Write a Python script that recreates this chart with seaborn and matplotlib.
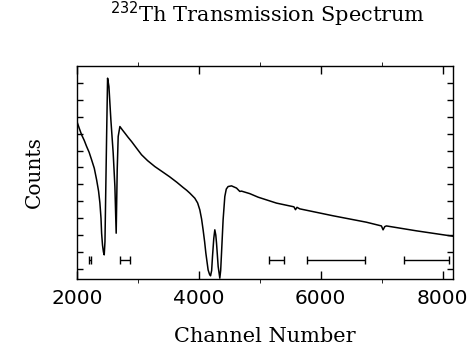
import seaborn as sns
import matplotlib.pyplot as plt
import pandas as pd

# channel / counts (counts in tick units)
channel = [2000, 2040, 2077, 2120, 2159, 2200, 2241, 2285, 2323, 2355, 2377, 2395, 2405,
           2420, 2435, 2448, 2460, 2470, 2487, 2503, 2525, 2557, 2595, 2623, 2644, 2661,
           2677, 2705, 2750, 2787, 2840, 2897, 2978, 3060, 3160, 3279, 3400, 3520, 3640,
           3740, 3800, 3852, 3934, 3980, 4016, 4045, 4070, 4095, 4115, 4152, 4175, 4192,
           4210, 4224, 4245, 4262, 4278, 4290, 4317, 4344, 4358, 4372, 4398, 4426, 4450,
           4480, 4536, 4618, 4672, 4700, 4754, 4836, 4973, 5274, 5560, 5585, 5610, 5656,
           6202, 6749, 6995, 7022, 7050, 7077, 7569, 8170]
counts = [8.72, 8.3, 7.93, 7.6, 7.24, 6.9, 6.45, 5.95, 5.27, 4.6, 3.9, 3.0, 2.11,
          1.4, 1.0, 0.83, 1.6, 3.9, 7.83, 11.28, 10.79, 8.82, 6.85, 4.87, 2.11, 5.86,
          7.83, 8.42, 8.2, 8.03, 7.78, 7.53, 7.14, 6.75, 6.4, 6.05, 5.75, 5.45, 5.12,
          4.82, 4.65, 4.48, 4.18, 3.9, 3.49, 2.95, 2.31, 1.6, 0.93, -0.06, -0.32, -0.41,
          -0.1, 0.73, 1.8, 2.31, 2.0, 1.52, 0.14, -0.55, -0.1, 0.93, 2.9, 4.28, 4.72,
          4.87, 4.91, 4.78, 4.58, 4.6, 4.54, 4.45, 4.24, 3.89, 3.67, 3.5, 3.64, 3.55,
          3.14, 2.76, 2.54, 2.31, 2.5, 2.54, 2.25, 1.93]

# horizontal bars along the bottom
bar_center = [2215, 2787, 5275, 6251, 7735]
bar_half = [12, 82, 123, 470, 369]
bar_y = [0.5, 0.5, 0.5, 0.5, 0.5]

df = pd.DataFrame({"Channel": channel, "Counts": counts})

sns.set_style("ticks")
plt.rcParams["text.color"] = "black"
plt.rcParams["xtick.color"] = "black"
plt.rcParams["ytick.color"] = "black"
plt.rcParams["axes.labelcolor"] = "black"

fig = plt.figure(figsize=(4.69, 3.53), dpi=100)
ax = fig.add_axes([0.164, 0.2096, 0.802, 0.6034])

sns.lineplot(data=df, x="Channel", y="Counts", ax=ax, color="black", lw=1.1, sort=False)
ax.errorbar(bar_center, bar_y, xerr=bar_half, fmt="none", ecolor="black",
            elinewidth=1.0, capsize=3, capthick=1.0)

ax.set_xlim(2000, 8170)
ax.set_ylim(-0.6, 12.0)
ax.set_xticks([2000, 4000, 6000, 8000])
ax.set_xticks([3000, 5000, 7000], minor=True)
ax.set_yticks(range(0, 12))
ax.set_yticklabels([])
ax.tick_params(direction="in", top=True, right=True, color="black", width=1.0)
ax.tick_params(axis="x", which="major", length=6, pad=7, labelsize=14.5, labelcolor="black")
ax.tick_params(axis="x", which="minor", length=3, top=True)
ax.tick_params(axis="y", length=4)
for s in ax.spines.values():
    s.set_linewidth(1.0)
    s.set_color("black")

ax.set_xlabel("Channel Number", family="DejaVu Serif", fontsize=15, labelpad=14)
ax.set_ylabel("Counts", family="DejaVu Serif", fontsize=14.5, labelpad=20)
fig.text(0.571, 0.958, r"$\mathsf{^{232}}$Th Transmission Spectrum",
         family="DejaVu Serif", fontsize=15, ha="center", va="center")

plt.savefig("out.png", dpi=100)
